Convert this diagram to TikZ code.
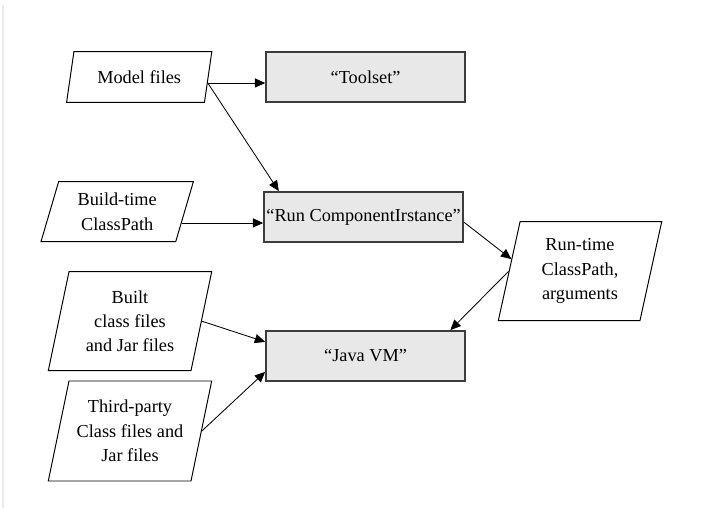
\documentclass[tikz,border=0pt]{standalone}
\usepackage{fontspec}
\setmainfont{Liberation Serif}
\usetikzlibrary{arrows.meta,shapes.geometric}
\definecolor{boxgray}{RGB}{232,232,232}
\definecolor{framegray}{RGB}{60,60,60}
\tikzstyle{procbox}=[rectangle, draw=framegray, line width=1.3pt, fill=boxgray, minimum width=4.975cm, minimum height=1.25cm, inner sep=0pt, font=\fontsize{13}{17.3}\selectfont]
\tikzstyle{to}=[-{Triangle[length=2.6mm,width=2.3mm]}, line width=0.6pt]
\tikzset{filebox/.style={trapezium, trapezium left angle=#1, trapezium right angle=180-#1,
  trapezium stretches body, draw, line width=0.7pt, inner sep=0pt, align=center,
  font=\fontsize{13}{17.3}\selectfont}}

\begin{document}
\begin{tikzpicture}

\useasboundingbox (0,0) rectangle (17.55,12.7);
\draw [boxgray!80!black!30, line width=0.8pt] (0.075,12.575) -- (0.075,0);

\node (toolset) [procbox] at (9.14,10.775) {``Toolset''};
\node (runci)   [procbox] at (9.09,7.275)  {``Run ComponentIrstance''};
\node (javavm)  [procbox] at (9.14,3.8)    {``Java VM''};

\node (model)   [filebox=60.7, minimum width=3.63cm, minimum height=1.265cm] at (3.48,10.775) {Model files};
\node (build)   [filebox=64.6, minimum width=3.81cm, minimum height=1.5cm]   at (2.93,7.41)   {Build-time\\ClassPath};
\node (runtime) [filebox=71.4, minimum width=4.085cm, minimum height=2.475cm] at (14.5,5.92)  {Run-time\\ClassPath,\\arguments};
\node (built)   [filebox=71.4, minimum width=4.085cm, minimum height=2.475cm] at (3.25,4.67)  {Built\\class files\\and Jar files};
\node (third)   [filebox=71.4, minimum width=4.085cm, minimum height=2.5cm]   at (3.25,1.925) {Third-party\\Class files and\\Jar files};

\draw [to] (model.355) -- (model.355 -| toolset.west);
\draw [to] (model.355) -- (runci.163);
\draw [to] (build.350) -- (build.350 -| runci.west);
\draw [to] (runci.357) -- (runtime.170);
\draw [to] (runtime.west) -- (javavm.17);
\draw [to] (built.east) -- (javavm.172);
\draw [to] (third.east) -- (javavm.189);

\end{tikzpicture}
\end{document}
